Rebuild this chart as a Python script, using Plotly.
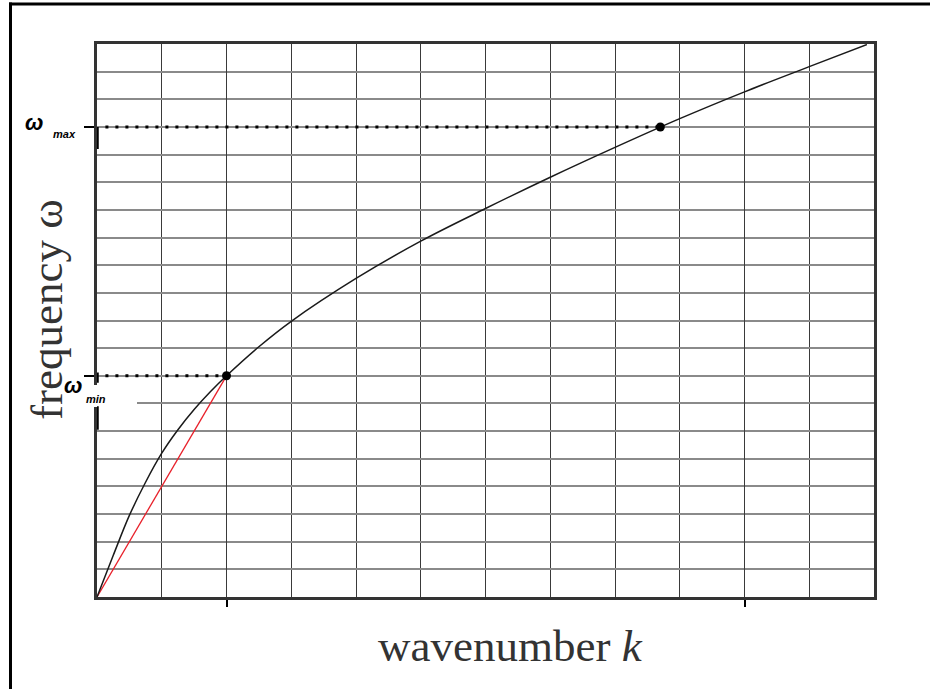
import plotly.graph_objects as go

# ---- data ----
k_curve = [0, 0.25, 0.5, 0.75, 1.0, 1.25, 1.5, 1.75, 2.0, 2.5, 3.0, 4.0, 5.0, 6.0, 7.0, 8.0, 9.0, 10.0, 11.0, 11.89]
w_curve = [0, 1.5, 2.95, 4.15, 5.2, 6.05, 6.78, 7.42, 8.0, 9.05, 9.97, 11.52, 12.87, 14.05, 15.18, 16.26, 17.3, 18.27, 19.18, 19.98]
k_min, w_min = 2.0, 8.0
k_max, w_max = 8.7, 17.0
x_ticks = [2, 10]
y_ticks = [w_min, w_max]
x_title = "wavenumber <i>k</i>"
y_title = "frequency ω"

W, H = 930, 689
L, R, T, B = 97, 874, 44, 597


def px(x):
    return (x - L) / (R - L)


def py(y):
    return (B - y) / (B - T)


fig = go.Figure()

# red chord from origin to the omega_min point
fig.add_trace(go.Scatter(x=[k_curve[0], k_min], y=[w_curve[0], w_min], mode="lines",
                         line=dict(color="#e8202a", width=1.3), hoverinfo="skip"))
# dispersion curve
fig.add_trace(go.Scatter(x=k_curve, y=w_curve, mode="lines",
                         line=dict(color="#1a1a1a", width=1.5, shape="spline", smoothing=1.0),
                         hoverinfo="skip"))
# dotted guide lines
for kk, ww in [(k_min, w_min), (k_max, w_max)]:
    fig.add_trace(go.Scatter(x=[0.13, kk], y=[ww, ww], mode="lines",
                             line=dict(color="black", width=3, dash="3px,7px"), hoverinfo="skip"))
# dots
fig.add_trace(go.Scatter(x=[k_min, k_max], y=[w_min, w_max], mode="markers",
                         marker=dict(color="black", size=9), hoverinfo="skip"))

axis_common = dict(showline=True, linewidth=3, linecolor="#333", mirror=True,
                   zeroline=False, showticklabels=False, ticks="outside",
                   tickwidth=2, tickcolor="black", tickmode="array")

fig.update_xaxes(range=[0, 12], tickvals=x_ticks, ticklen=7,
                 showgrid=True, gridcolor="#3a3a3a", gridwidth=1.3,
                 minor=dict(tickmode="linear", tick0=0, dtick=1, showgrid=True,
                            gridcolor="#3a3a3a", gridwidth=1.3, ticks=""),
                 **axis_common)
fig.update_yaxes(range=[0, 20], tickvals=y_ticks, ticklen=10,
                 showgrid=True, gridcolor="#8a8a8a", gridwidth=1.5,
                 minor=dict(tickmode="linear", tick0=0, dtick=1, showgrid=True,
                            gridcolor="#8a8a8a", gridwidth=1.5, ticks=""),
                 **axis_common)

shapes = [
    # outer frame: only the top and left edges are inside the picture
    dict(type="line", xref="paper", yref="paper", x0=px(9), x1=px(940), y0=py(4), y1=py(4),
         line=dict(color="black", width=3), layer="above"),
    dict(type="line", xref="paper", yref="paper", x0=px(10.5), x1=px(10.5), y0=py(2.5), y1=py(700),
         line=dict(color="black", width=3), layer="above"),
    # white patch behind the 'min' label
    dict(type="rect", xref="paper", yref="paper", x0=px(80), x1=px(137), y0=py(407), y1=py(385),
         line=dict(width=0), fillcolor="white", layer="above"),
    # bold axis segments at the omega ticks
    dict(type="line", xref="x", yref="y", x0=0, x1=0, y0=w_max, y1=w_max - 0.8,
         line=dict(color="black", width=3.5), layer="above"),
    dict(type="line", xref="x", yref="y", x0=0, x1=0, y0=w_min + 0.12, y1=w_min - 0.25,
         line=dict(color="black", width=3.5), layer="above"),
    dict(type="line", xref="x", yref="y", x0=0, x1=0, y0=w_min - 1.1, y1=w_min - 1.95,
         line=dict(color="black", width=3.5), layer="above"),
]

serif = "Liberation Serif"
sans = "Liberation Sans"
annotations = [
    dict(text=x_title, xref="paper", yref="paper", x=px(510), y=py(646),
         xanchor="center", yanchor="middle", showarrow=False,
         font=dict(family=serif, size=45, color="#333")),
    dict(text=y_title, xref="paper", yref="paper", x=px(47), y=py(310),
         xanchor="center", yanchor="middle", showarrow=False, textangle=-90,
         font=dict(family=serif, size=45, color="#333")),
    dict(text="<b><i>ω</i></b>", xref="paper", yref="paper", x=px(34), y=py(122),
         xanchor="center", yanchor="middle", showarrow=False,
         font=dict(family=sans, size=22, color="black")),
    dict(text="<b><i>max</i></b>", xref="paper", yref="paper", x=px(64), y=py(134),
         xanchor="center", yanchor="middle", showarrow=False,
         font=dict(family=sans, size=11, color="black")),
    dict(text="<b><i>ω</i></b>", xref="paper", yref="paper", x=px(73), y=py(386),
         xanchor="center", yanchor="middle", showarrow=False,
         font=dict(family=sans, size=22, color="black")),
    dict(text="<b><i>min</i></b>", xref="paper", yref="paper", x=px(96), y=py(399),
         xanchor="center", yanchor="middle", showarrow=False,
         font=dict(family=sans, size=11, color="black")),
]

fig.update_layout(width=W, height=H, margin=dict(l=L, r=W - R, t=T, b=H - B),
                  paper_bgcolor="white", plot_bgcolor="white", showlegend=False,
                  shapes=shapes, annotations=annotations)

fig.write_html("out.html")
